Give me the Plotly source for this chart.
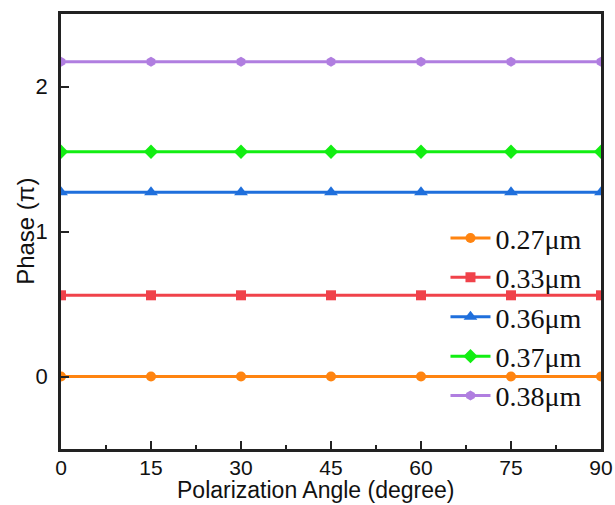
import plotly.graph_objects as go

# Polarization angle (degree)
angles = [0, 15, 30, 45, 60, 75, 90]

# Phase (in units of pi) for each pillar width
labels = ["0.27\u03bcm", "0.33\u03bcm", "0.36\u03bcm", "0.37\u03bcm", "0.38\u03bcm"]
phase_027 = [0.00, 0.00, 0.00, 0.00, 0.00, 0.00, 0.00]
phase_033 = [0.56, 0.56, 0.56, 0.56, 0.56, 0.56, 0.56]
phase_036 = [1.27, 1.27, 1.27, 1.27, 1.27, 1.27, 1.27]
phase_037 = [1.55, 1.55, 1.55, 1.55, 1.55, 1.55, 1.55]
phase_038 = [2.17, 2.17, 2.17, 2.17, 2.17, 2.17, 2.17]

series = [phase_027, phase_033, phase_036, phase_037, phase_038]
colors = ["#FF8410", "#F0424A", "#1F6FDC", "#12EE12", "#B07EE0"]
symbols = ["circle", "square", "triangle-up", "diamond", "hexagon"]
sizes = [10, 10, 12, 11, 10]

fig = go.Figure()
for name, vals, col, sym, sz in zip(labels, series, colors, symbols, sizes):
    fig.add_trace(go.Scatter(
        x=angles, y=vals, name=name, mode="lines+markers",
        line=dict(color=col, width=3),
        marker=dict(symbol=sym, size=sz, color=col),
    ))

axis_common = dict(
    showline=True, linecolor="#222222", linewidth=2.5, mirror=True,
    ticks="inside", ticklen=8, tickwidth=2, tickcolor="#222222",
    showgrid=False, zeroline=False, automargin=False,
)
tick_font = dict(family="Liberation Sans, Arial", size=22, color="#111111")

fig.update_xaxes(
    range=[0, 90], tickvals=[0, 15, 30, 45, 60, 75, 90],
    minor=dict(ticks="inside", ticklen=4, tickwidth=2, tickcolor="#222222", dtick=7.5, tick0=0),
    tickfont=dict(tick_font, size=21),
    ticklabelstandoff=-2,
    **axis_common,
)
fig.update_yaxes(
    range=[-0.5, 2.5], tickvals=[0, 1, 2],
    tickfont=tick_font,
    ticklabelstandoff=6,
    **axis_common,
)

title_font = dict(family="Liberation Sans, Arial", size=23, color="#111111")

# axis titles placed by hand so they sit close to the tick labels
fig.add_annotation(
    text="Phase (\u03c0)", textangle=-90, showarrow=False,
    xref="paper", yref="paper", x=-0.066, y=0.5,
    xanchor="center", yanchor="middle", font=dict(title_font, size=24),
)
fig.add_annotation(
    text="Polarization Angle (degree)", showarrow=False,
    xref="paper", yref="paper", x=0.472, y=-0.1287,
    xanchor="center", yanchor="bottom", font=title_font,
)

fig.update_layout(
    width=615, height=505,
    margin=dict(l=61, r=14, t=14, b=56),
    plot_bgcolor="white", paper_bgcolor="white",
    showlegend=True,
    legend=dict(
        x=0.712, y=0.542, xanchor="left", yanchor="top",
        bgcolor="rgba(0,0,0,0)",
        font=dict(family="Liberation Serif, Times New Roman", size=28, color="#111111"),
        tracegroupgap=0, itemwidth=40,
    ),
)

fig.write_html("out.html")
